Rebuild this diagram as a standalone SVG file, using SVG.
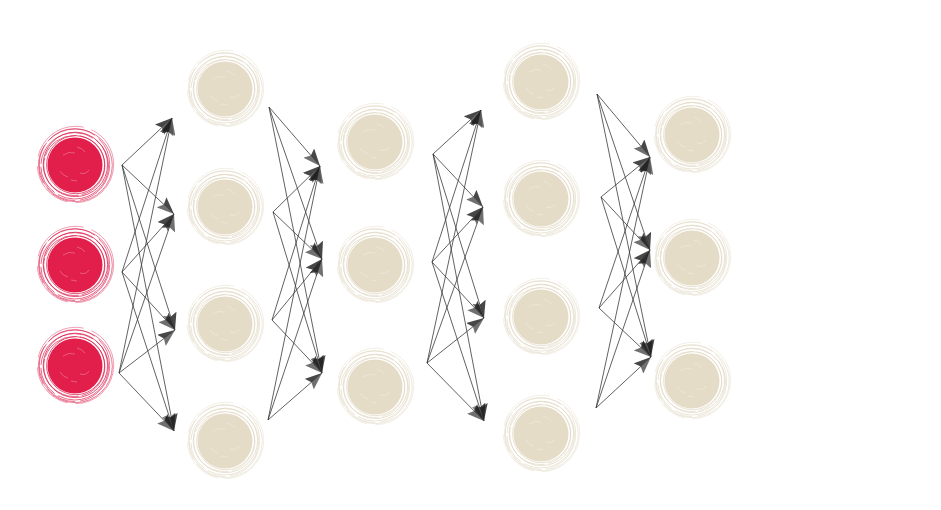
<svg xmlns="http://www.w3.org/2000/svg" xmlns:xlink="http://www.w3.org/1999/xlink" width="941" height="510" viewBox="0 0 941 510">
<style>
.edge{stroke:#3a3a3a;stroke-width:0.8;fill:none;marker-end:url(#arrow)}
.rring{fill:none;stroke:#dc1f4d;stroke-width:0.85}
.bring{fill:none;stroke:#e2d9c4;stroke-width:0.85}
.scr{fill:none;stroke:#ffffff;stroke-width:0.6;opacity:0.45}
</style>
<defs>
<marker id="arrow" viewBox="0 0 17 14" refX="17" refY="7" markerWidth="17" markerHeight="14" markerUnits="userSpaceOnUse" orient="auto">
<path d="M17,7 L0,0 L3,7 Z" fill="#1e1e1e" opacity="0.82"/>
<path d="M17,7 L3,7 L0,14 Z" fill="#505050" opacity="0.82"/>
</marker>
<g id="redball">
<circle r="27.5" fill="#e21f4b"/>
<circle r="29" cx="0.6" cy="-0.3" class="rring" opacity="0.9"/>
<ellipse rx="30.6" ry="30" cx="-0.7" cy="0.5" class="rring" opacity="0.8" stroke-dasharray="40 3 60 2"/>
<circle r="32.2" cx="0.4" cy="-0.6" class="rring" opacity="0.9"/>
<ellipse rx="33.8" ry="33.2" cx="-0.3" cy="0.8" class="rring" opacity="0.8" stroke-dasharray="70 4 30 3"/>
<ellipse rx="35.2" ry="35.9" cx="-0.5" cy="-0.4" class="rring" opacity="0.75" stroke-dasharray="50 5 80 4"/>
<ellipse rx="36.9" ry="36.3" cx="0.4" cy="0.3" class="rring" opacity="0.7" stroke-dasharray="90 6 40 5"/>
<circle r="38.2" cx="0.5" cy="-0.5" class="rring" opacity="0.5" stroke-dasharray="60 8 50 10"/>
<path class="scr" d="M-12,-10 q6,-4 12,-2 M5,8 q6,2 9,-3 M-15,6 q3,5 8,6 M2,-18 q5,1 8,5 M-4,15 l6,1"/>
</g>
<g id="beigeball">
<circle r="27.5" fill="#e5dcc8"/>
<circle r="29" cx="0.6" cy="-0.3" class="bring" opacity="0.9"/>
<ellipse rx="30.6" ry="30" cx="-0.7" cy="0.5" class="bring" opacity="0.8" stroke-dasharray="40 3 60 2"/>
<circle r="32.2" cx="0.4" cy="-0.6" class="bring" opacity="0.9"/>
<ellipse rx="33.8" ry="33.2" cx="-0.3" cy="0.8" class="bring" opacity="0.8" stroke-dasharray="70 4 30 3"/>
<ellipse rx="35.2" ry="35.9" cx="-0.5" cy="-0.4" class="bring" opacity="0.75" stroke-dasharray="50 5 80 4"/>
<ellipse rx="36.9" ry="36.3" cx="0.4" cy="0.3" class="bring" opacity="0.7" stroke-dasharray="90 6 40 5"/>
<circle r="38.2" cx="0.5" cy="-0.5" class="bring" opacity="0.5" stroke-dasharray="60 8 50 10"/>
<path class="scr" d="M-12,-10 q6,-4 12,-2 M5,8 q6,2 9,-3 M-15,6 q3,5 8,6 M2,-18 q5,1 8,5 M-4,15 l6,1"/>
</g>
</defs>
<rect width="941" height="510" fill="#ffffff"/>

<g id="connectors">
<!-- layer 1 to 2 -->
<line class="edge" x1="122" y1="165" x2="172" y2="118"/>
<line class="edge" x1="122" y1="165" x2="174" y2="214"/>
<line class="edge" x1="122" y1="165" x2="175" y2="330"/>
<line class="edge" x1="122" y1="165" x2="174" y2="431"/>
<line class="edge" x1="122" y1="272" x2="172" y2="118"/>
<line class="edge" x1="122" y1="272" x2="174" y2="214"/>
<line class="edge" x1="122" y1="272" x2="175" y2="330"/>
<line class="edge" x1="122" y1="272" x2="174" y2="431"/>
<line class="edge" x1="119" y1="373" x2="172" y2="118"/>
<line class="edge" x1="119" y1="373" x2="174" y2="214"/>
<line class="edge" x1="119" y1="373" x2="175" y2="330"/>
<line class="edge" x1="119" y1="373" x2="174" y2="431"/>
<!-- layer 2 to 3 -->
<line class="edge" x1="269" y1="107" x2="320" y2="166"/>
<line class="edge" x1="269" y1="107" x2="322" y2="259"/>
<line class="edge" x1="269" y1="107" x2="322" y2="373"/>
<line class="edge" x1="273" y1="212" x2="320" y2="166"/>
<line class="edge" x1="273" y1="212" x2="322" y2="259"/>
<line class="edge" x1="273" y1="212" x2="322" y2="373"/>
<line class="edge" x1="272" y1="320" x2="320" y2="166"/>
<line class="edge" x1="272" y1="320" x2="322" y2="259"/>
<line class="edge" x1="272" y1="320" x2="322" y2="373"/>
<line class="edge" x1="268" y1="420" x2="320" y2="166"/>
<line class="edge" x1="268" y1="420" x2="322" y2="259"/>
<line class="edge" x1="268" y1="420" x2="322" y2="373"/>
<!-- layer 3 to 4 -->
<line class="edge" x1="433" y1="154" x2="481" y2="110"/>
<line class="edge" x1="433" y1="154" x2="483" y2="207"/>
<line class="edge" x1="433" y1="154" x2="484" y2="318"/>
<line class="edge" x1="433" y1="154" x2="484" y2="421"/>
<line class="edge" x1="432" y1="262" x2="481" y2="110"/>
<line class="edge" x1="432" y1="262" x2="483" y2="207"/>
<line class="edge" x1="432" y1="262" x2="484" y2="318"/>
<line class="edge" x1="432" y1="262" x2="484" y2="421"/>
<line class="edge" x1="427" y1="363" x2="481" y2="110"/>
<line class="edge" x1="427" y1="363" x2="483" y2="207"/>
<line class="edge" x1="427" y1="363" x2="484" y2="318"/>
<line class="edge" x1="427" y1="363" x2="484" y2="421"/>
<!-- layer 4 to 5 -->
<line class="edge" x1="597" y1="94" x2="650" y2="157"/>
<line class="edge" x1="597" y1="94" x2="650" y2="250"/>
<line class="edge" x1="597" y1="94" x2="651" y2="357"/>
<line class="edge" x1="601" y1="197" x2="650" y2="157"/>
<line class="edge" x1="601" y1="197" x2="650" y2="250"/>
<line class="edge" x1="601" y1="197" x2="651" y2="357"/>
<line class="edge" x1="599" y1="308" x2="650" y2="157"/>
<line class="edge" x1="599" y1="308" x2="650" y2="250"/>
<line class="edge" x1="599" y1="308" x2="651" y2="357"/>
<line class="edge" x1="596" y1="408" x2="650" y2="157"/>
<line class="edge" x1="596" y1="408" x2="650" y2="250"/>
<line class="edge" x1="596" y1="408" x2="651" y2="357"/>
</g>

<g id="in1"><use xlink:href="#redball" href="#redball" x="75" y="165"/></g>
<g id="in2"><use xlink:href="#redball" href="#redball" x="75" y="265"/></g>
<g id="in3"><use xlink:href="#redball" href="#redball" x="75" y="366"/></g>

<g id="h1a"><use xlink:href="#beigeball" href="#beigeball" x="225" y="89"/></g>
<g id="h1b"><use xlink:href="#beigeball" href="#beigeball" x="225" y="207"/></g>
<g id="h1c"><use xlink:href="#beigeball" href="#beigeball" x="225" y="324"/></g>
<g id="h1d"><use xlink:href="#beigeball" href="#beigeball" x="225" y="441"/></g>

<g id="h2a"><use xlink:href="#beigeball" href="#beigeball" x="375" y="142"/></g>
<g id="h2b"><use xlink:href="#beigeball" href="#beigeball" x="375" y="265"/></g>
<g id="h2c"><use xlink:href="#beigeball" href="#beigeball" x="375" y="387"/></g>

<g id="h3a"><use xlink:href="#beigeball" href="#beigeball" x="541" y="82"/></g>
<g id="h3b"><use xlink:href="#beigeball" href="#beigeball" x="541" y="199"/></g>
<g id="h3c"><use xlink:href="#beigeball" href="#beigeball" x="541" y="317"/></g>
<g id="h3d"><use xlink:href="#beigeball" href="#beigeball" x="541" y="434"/></g>

<g id="out1"><use xlink:href="#beigeball" href="#beigeball" x="692" y="135"/></g>
<g id="out2"><use xlink:href="#beigeball" href="#beigeball" x="692" y="258"/></g>
<g id="out3"><use xlink:href="#beigeball" href="#beigeball" x="692" y="381"/></g>
</svg>
